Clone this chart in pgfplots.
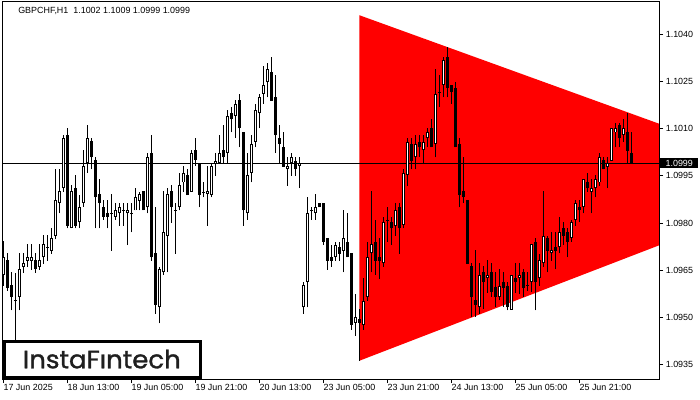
\documentclass[border=0pt]{standalone}
\usepackage{fontspec}
\setmainfont{Liberation Sans}
\newfontfamily\logofont{Poppins}[FakeBold=1.2]
\usepackage{pgfplots}
\usepackage{pgfplotstable}
\pgfplotsset{compat=1.18}

% GBPCHF H1 candles, i = bar index, O H L C
\pgfplotstableread{
i O H L C
0 1.09635 1.09743 1.09600 1.09691
4 1.09564 1.09706 1.09522 1.09653
5 1.09661 1.09704 1.09642 1.09674
6 1.09680 1.09733 1.09661 1.09691
7 1.09680 1.09733 1.09651 1.09691
9 1.09661 1.09733 1.09651 1.09683
10 1.09691 1.09762 1.09670 1.09733
12 1.09712 1.09783 1.09702 1.09752
13 1.09759 1.09971 1.09748 1.09873
14 1.09863 1.09971 1.09831 1.09902
15 1.09911 1.10080 1.09900 1.10070
17 1.09783 1.09921 1.09783 1.09902
19 1.09802 1.09889 1.09783 1.09850
20 1.09863 1.10032 1.09852 1.09982
21 1.09990 1.10112 1.09960 1.10070
28 1.09820 1.09863 1.09810 1.09842
29 1.09831 1.09863 1.09791 1.09850
31 1.09831 1.09863 1.09730 1.09842
33 1.09840 1.09911 1.09840 1.09882
34 1.09871 1.09900 1.09840 1.09893
36 1.09850 1.10022 1.09831 1.10009
39 1.09532 1.09661 1.09481 1.09653
40 1.09643 1.09902 1.09635 1.09771
41 1.09760 1.09911 1.09643 1.09893
44 1.09850 1.09960 1.09840 1.09921
45 1.09929 1.09982 1.09900 1.09960
47 1.09900 1.10032 1.09900 1.10022
51 1.09893 1.09982 1.09791 1.09901
52 1.09889 1.09990 1.09882 1.09982
53 1.09990 1.10022 1.09950 1.09998
54 1.09990 1.10080 1.09990 1.10022
56 1.10022 1.10160 1.09990 1.10141
58 1.10141 1.10191 1.10070 1.10179
61 1.09831 1.10022 1.09810 1.09953
62 1.09960 1.10080 1.09929 1.10052
63 1.10059 1.10179 1.10041 1.10160
64 1.10149 1.10211 1.10101 1.10200
65 1.10211 1.10300 1.10179 1.10239
66 1.10248 1.10310 1.10200 1.10289
71 1.09971 1.10009 1.09919 1.09982
72 1.09990 1.10022 1.09950 1.10009
74 1.09982 1.10009 1.09911 1.09990
75 1.09532 1.09614 1.09511 1.09603
76 1.09612 1.09882 1.09532 1.09831
78 1.09831 1.09893 1.09810 1.09850
83 1.09691 1.09741 1.09680 1.09730
85 1.09712 1.09842 1.09643 1.09752
88 1.09483 1.09574 1.09442 1.09502
90 1.09476 1.09624 1.09460 1.09553
91 1.09564 1.09741 1.09553 1.09691
92 1.09704 1.09902 1.09643 1.09733
95 1.09672 1.09820 1.09661 1.09802
98 1.09792 1.09863 1.09760 1.09842
100 1.09794 1.09971 1.09783 1.09960
101 1.09953 1.10070 1.09919 1.10059
103 1.10009 1.10080 1.09971 1.10052
105 1.10032 1.10080 1.09990 1.10059
106 1.10070 1.10101 1.10041 1.10088
108 1.10052 1.10289 1.10009 1.10211
110 1.10239 1.10329 1.10200 1.10319
119 1.09532 1.09674 1.09511 1.09635
121 1.09624 1.09683 1.09577 1.09635
124 1.09564 1.09653 1.09555 1.09601
127 1.09524 1.09635 1.09524 1.09635
129 1.09624 1.09674 1.09574 1.09635
132 1.09612 1.09733 1.09582 1.09733
134 1.09624 1.09702 1.09601 1.09683
135 1.09672 1.09902 1.09661 1.09760
137 1.09704 1.09771 1.09680 1.09714
139 1.09723 1.09820 1.09704 1.09771
142 1.09752 1.09810 1.09741 1.09802
143 1.09810 1.09873 1.09792 1.09863
145 1.09850 1.09939 1.09831 1.09939
147 1.09900 1.09939 1.09831 1.09911
148 1.09911 1.09953 1.09882 1.09939
149 1.09929 1.10022 1.09919 1.10009
151 1.09979 1.10009 1.09911 1.09990
152 1.09998 1.10101 1.09998 1.10101
153 1.10088 1.10119 1.10041 1.10101
155 1.10080 1.10130 1.10059 1.10101
}\bull

\pgfplotstableread{
i O H L C
1 1.09683 1.09704 1.09585 1.09593
2 1.09603 1.09643 1.09522 1.09564
3 1.09555 1.09641 1.09428 1.09552
8 1.09683 1.09704 1.09642 1.09653
11 1.09723 1.09762 1.09680 1.09720
16 1.10080 1.10101 1.09783 1.09792
18 1.09911 1.09953 1.09783 1.09792
22 1.10061 1.10070 1.09971 1.10009
23 1.10001 1.10009 1.09783 1.09882
24 1.09893 1.09939 1.09783 1.09863
25 1.09850 1.09873 1.09810 1.09820
26 1.09833 1.09873 1.09783 1.09820
27 1.09831 1.09893 1.09712 1.09828
30 1.09842 1.09863 1.09791 1.09839
32 1.09831 1.09863 1.09770 1.09828
35 1.09902 1.09902 1.09840 1.09840
37 1.10022 1.10080 1.09680 1.09691
38 1.09704 1.09852 1.09511 1.09540
42 1.09902 1.09921 1.09801 1.09850
43 1.09842 1.09863 1.09702 1.09839
46 1.09953 1.09971 1.09889 1.09889
48 1.10032 1.10070 1.09982 1.10001
49 1.09990 1.09990 1.09850 1.09889
50 1.09900 1.09929 1.09882 1.09897
55 1.10032 1.10112 1.09990 1.10009
57 1.10149 1.10170 1.10088 1.10130
59 1.10191 1.10211 1.10041 1.10101
60 1.10091 1.10091 1.09791 1.09840
67 1.10279 1.10329 1.10189 1.10189
68 1.10200 1.10271 1.10022 1.10080
69 1.10070 1.10112 1.09990 1.10052
70 1.10041 1.10091 1.09979 1.09979
73 1.09998 1.10009 1.09950 1.09971
77 1.09842 1.09852 1.09810 1.09839
79 1.09863 1.09863 1.09850 1.09850
80 1.09863 1.09863 1.09730 1.09741
81 1.09752 1.09752 1.09651 1.09680
82 1.09691 1.09730 1.09661 1.09680
84 1.09723 1.09741 1.09680 1.09702
86 1.09741 1.09831 1.09691 1.09691
87 1.09704 1.09704 1.09460 1.09476
89 1.09494 1.09526 1.09362 1.09483
93 1.09741 1.09810 1.09635 1.09680
94 1.09691 1.09752 1.09622 1.09680
96 1.09810 1.09850 1.09741 1.09807
97 1.09802 1.09820 1.09730 1.09783
99 1.09850 1.09863 1.09702 1.09783
102 1.10052 1.10070 1.09971 1.09998
104 1.10059 1.10080 1.10009 1.10041
107 1.10101 1.10130 1.10041 1.10041
109 1.10218 1.10271 1.10170 1.10215
111 1.10329 1.10361 1.10200 1.10229
112 1.10239 1.10239 1.10179 1.10218
113 1.10229 1.10250 1.10041 1.10041
114 1.10052 1.10070 1.09850 1.09889
115 1.09902 1.10009 1.09863 1.09882
116 1.09873 1.09873 1.09670 1.09670
117 1.09664 1.09674 1.09502 1.09564
118 1.09555 1.09714 1.09502 1.09540
120 1.09643 1.09664 1.09526 1.09612
122 1.09643 1.09674 1.09564 1.09582
123 1.09596 1.09643 1.09534 1.09564
125 1.09612 1.09643 1.09534 1.09593
126 1.09601 1.09612 1.09522 1.09532
128 1.09624 1.09674 1.09577 1.09612
130 1.09643 1.09653 1.09564 1.09593
131 1.09603 1.09643 1.09585 1.09600
133 1.09741 1.09752 1.09522 1.09612
136 1.09752 1.09760 1.09643 1.09712
138 1.09723 1.09771 1.09653 1.09712
140 1.09783 1.09802 1.09730 1.09760
141 1.09771 1.09783 1.09691 1.09741
144 1.09850 1.09873 1.09802 1.09840
146 1.09929 1.09960 1.09900 1.09911
150 1.10001 1.10009 1.09971 1.09971
154 1.10112 1.10119 1.10041 1.10070
156 1.10088 1.10149 1.09990 1.10030
157 1.10022 1.10088 1.09990 1.09990
}\bear

\newcommand{\tickfont}{\fontsize{6.7}{8}\selectfont}
\pgfplotsset{
  candle/.style={draw=none, no markers, error bars/.cd, y dir=plus, y explicit,
    error mark=none, error bar style={solid, #1}},
}

\begin{document}
\begin{tikzpicture}
\path[use as bounding box] (0,0) rectangle (525pt,300pt);
\begin{axis}[
  at={(1.5pt,15.75pt)}, anchor=south west,
  scale only axis, width=492.75pt, height=282.75pt,
  xmin=-0.33, xmax=163.92, ymin=1.09304, ymax=1.10503,
  axis on top,
  axis line style={black, line width=0.75pt},
  tick align=outside, major tick length=3pt,
  tick style={black, line width=0.75pt},
  xtick={0,16,32,48,64,80,96,112,128,144},
  xticklabels={17 Jun 2025,18 Jun 13:00,19 Jun 05:00,19 Jun 21:00,20 Jun 13:00,
    23 Jun 05:00,23 Jun 21:00,24 Jun 13:00,25 Jun 05:00,25 Jun 21:00},
  xtick pos=bottom,
  xticklabel style={font=\tickfont, anchor=north west, inner sep=0pt, yshift=-0.75pt},
  ytick={1.0935,1.0950,1.0965,1.0980,1.0995,1.1010,1.1025,1.1040},
  ytick pos=right, yticklabel pos=right,
  scaled y ticks=false,
  yticklabel style={font=\tickfont, anchor=west, inner sep=0pt, xshift=1.9pt,
    /pgf/number format/.cd, fixed, fixed zerofill, precision=4, assume math mode=true},
]
% triangle pattern
\addplot[fill=red, draw=none] coordinates {(89,1.10461) (163.92,1.10116) (163.92,1.09729) (89,1.09362)} -- cycle;
% last price line
\addplot[black, line width=0.75pt] coordinates {(-0.33,1.0999) (163.92,1.0999)};
% wicks
\addplot[candle={draw=black, line width=0.75pt}] table[x=i, y=L, y error plus expr=\thisrow{H}-\thisrow{L}] {\bull};
\addplot[candle={draw=black, line width=0.75pt}] table[x=i, y=L, y error plus expr=\thisrow{H}-\thisrow{L}] {\bear};
% bodies
\addplot[candle={draw=black, line width=2.25pt}] table[x=i, y=C, y error plus expr=\thisrow{O}-\thisrow{C}] {\bear};
\addplot[candle={draw=black, line width=2.25pt}] table[x=i, y=O, y error plus expr=\thisrow{C}-\thisrow{O}] {\bull};
% hollow inside of rising bodies, one pixel in from each end
\addplot[candle={draw=white, line width=0.75pt}] table[x=i, y expr=\thisrow{O}+0.00003, y error plus expr=\thisrow{C}-\thisrow{O}-0.00006] {\bull};
\end{axis}
% header
\node[anchor=base west, inner sep=0pt, font=\tickfont] at (13.5pt,289.5pt) {GBPCHF,H1\ \ 1.1002 1.1009 1.0999 1.0999};
% current price tag
\node[fill=black, text=white, inner sep=0pt, minimum width=28.5pt, minimum height=7.5pt, anchor=west, font=\tickfont] at (495pt,177.4pt) {1.0999};
% logo
\draw[line width=2.25pt, fill=white] (3.15pt,16.9pt) rectangle (150.15pt,43.9pt);
\node[anchor=base, inner sep=0pt, text=black!88] at (76.4pt,23.8pt) {\resizebox{118.5pt}{13.9pt}{\logofont InstaFıntech}};
\end{tikzpicture}
\end{document}
